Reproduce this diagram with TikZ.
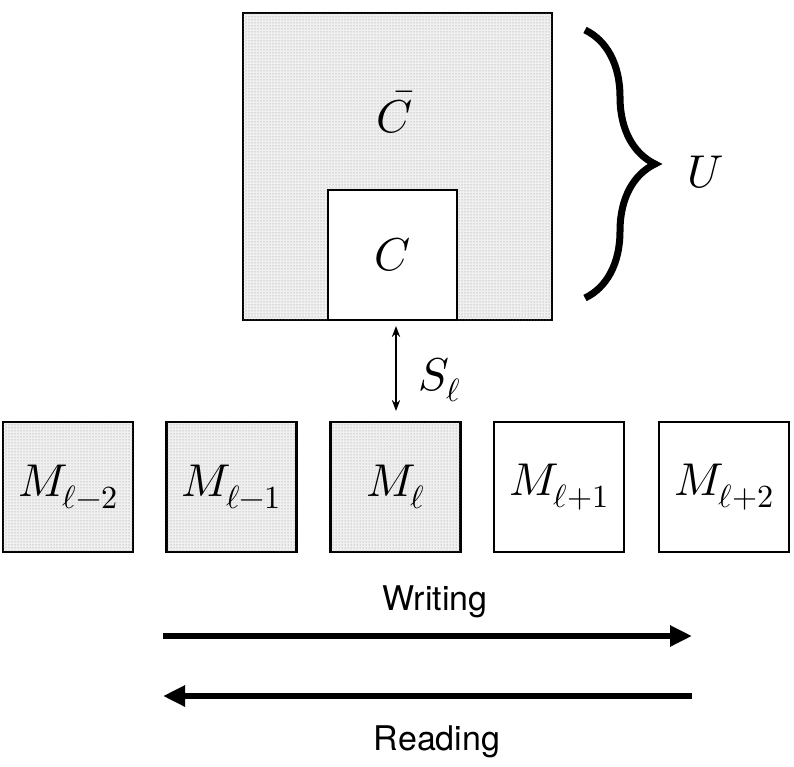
\documentclass[tikz,border=0pt]{standalone}
\usepackage{fontspec}
\setmainfont{TeX Gyre Heros}
\usepackage{unicode-math}
\setmathfont{Latin Modern Math}
\usetikzlibrary{patterns,decorations.pathreplacing,arrows.meta}
\begin{document}
\begin{tikzpicture}[x=1pt,y=-1pt,
  mfont/.style={font=\fontsize{46}{50}\selectfont},
  box/.style={draw,line width=2.8pt,minimum width=130pt,minimum height=130pt,inner sep=0pt,mfont},
  dotty/.style={fill=gray!12,postaction={pattern=dots,pattern color=gray!90}},
  big/.style={line width=6pt,-{Triangle[length=22pt,width=20pt]}},
  lbl/.style={font=\fontsize{34}{38}\selectfont}]
\useasboundingbox (0,0) rectangle (794,767);
\node[box,dotty,minimum width=309pt,minimum height=307pt] (U) at (397.5,166.5) {};
\node[box,fill=white,minimum width=129pt] (C) at (392.5,255) {$C$};
\node[mfont] (Cb) at (395,112) {$\bar{C}$};
\draw[line width=7pt,decorate,decoration={brace,amplitude=70pt,aspect=0.5}] (585,30) -- (585,298);
\node[mfont] (Ul) at (706,172) {$U$};
\node[box,dotty] (m1) at (68,487) {$M_{\ell-2}$};
\node[box,dotty] (m2) at (231.5,487) {$M_{\ell-1}$};
\node[box,dotty] (m3) at (395.5,487) {$M_{\ell}$};
\node[box] (m4) at (559,487) {$M_{\ell+1}$};
\node[box] (m5) at (724,487) {$M_{\ell+2}$};
\draw[line width=2pt,{Stealth[length=11pt]}-{Stealth[length=11pt]}] (396,326) -- (396,411);
\node[mfont] (S) at (440,380) {$S_\ell$};
\node[lbl] (W) at (435,602) {Writing};
\node[lbl] (R) at (437,742) {Reading};
\coordinate (w1) at (163,636); \coordinate (w2) at (692,636);
\coordinate (r1) at (692,696); \coordinate (r2) at (163,696);
\draw[big] (w1) -- (w2);
\draw[big] (r1) -- (r2);
\end{tikzpicture}
\end{document}
